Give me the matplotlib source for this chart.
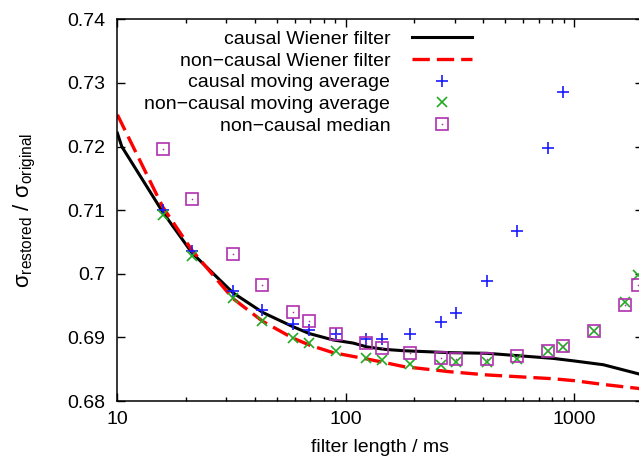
import matplotlib
matplotlib.use("Agg")
import matplotlib.pyplot as plt
from matplotlib.ticker import FixedLocator, LogLocator, NullFormatter, FormatStrFormatter

plt.rcParams["font.family"] = ["Liberation Sans", "DejaVu Sans"]
plt.rcParams["mathtext.fontset"] = "custom"
plt.rcParams["mathtext.rm"] = "Liberation Sans"
plt.rcParams["mathtext.it"] = "Liberation Sans:italic"

# Wiener filter curves (filter length in ms)
wiener_len = [10, 10.45, 15.8, 21.2, 32.1, 43.4, 58.6, 69.3, 88, 108, 124, 150, 180, 286, 415, 810, 1000, 1345, 2000]
causal_wiener = [0.7221, 0.7200, 0.7097, 0.7033, 0.6970, 0.6939, 0.6917, 0.6906, 0.6896, 0.6891,
                 0.6885, 0.6881, 0.6879, 0.6876, 0.6875, 0.6867, 0.6863, 0.6857, 0.6841]
noncausal_wiener = [0.7250, 0.7236, 0.7105, 0.7037, 0.6961, 0.6925, 0.6899, 0.6888, 0.6876, 0.6870,
                    0.6866, 0.6860, 0.6854, 0.6846, 0.6841, 0.6835, 0.6832, 0.6826, 0.6819]

# simple filters
filt_len = [15.8, 21.2, 32.1, 43, 58.6, 69.3, 91, 123, 144, 191, 262, 303, 416, 563, 769, 898, 1220, 1673, 1912]
causal_ma = [0.7101, 0.7036, 0.6973, 0.6943, 0.6921, 0.6911, 0.6906, 0.6897, 0.6898, 0.6906,
             0.6924, 0.6939, 0.6988, 0.7068, 0.7197, 0.7285]
noncausal_ma = [0.7092, 0.7028, 0.6962, 0.6926, 0.6899, 0.6891, 0.6879, 0.6868, 0.6864, 0.6858,
                0.6857, 0.6862, 0.6862, 0.6866, 0.6878, 0.6885, 0.6910, 0.6955, 0.6998]
noncausal_median = [0.7196, 0.7117, 0.7031, 0.6982, 0.6940, 0.6926, 0.6906, 0.6891, 0.6884, 0.6876,
                    0.6868, 0.6866, 0.6866, 0.6871, 0.6879, 0.6887, 0.6910, 0.6951, 0.6982]

W, H = 639, 467
fig = plt.figure(figsize=(W / 100, H / 100), dpi=100)
ax = fig.add_axes([117.4 / W, 66 / H, (642.7 - 117.4) / W, (401 - 19.3) / H])

l1, = ax.plot(wiener_len, causal_wiener, color="black", lw=2.2)
l2, = ax.plot(wiener_len, noncausal_wiener, color="#ff0000", lw=2.4, dashes=(5.2, 2.1))
l3, = ax.plot(filt_len[:len(causal_ma)], causal_ma, ls="none", marker="+", ms=9, mew=1.2,
              color="#1a1aff")
l4, = ax.plot(filt_len, noncausal_ma, ls="none", marker="x", ms=7.5, mew=1.2,
              color="#22aa22")
l5, = ax.plot(filt_len, noncausal_median, ls="none", marker="s", ms=9, mew=1.2,
              mfc="none", color="#b030b0")
l5d, = ax.plot(filt_len, noncausal_median, ls="none", marker="o", ms=1.2, mew=0,
               color="#b030b0")

ax.set_xscale("log")
ax.set_xlim(10, 2000)
ax.set_ylim(0.68, 0.74)
ax.xaxis.set_major_locator(FixedLocator([10, 100, 1000]))
ax.xaxis.set_major_formatter(FormatStrFormatter("%g"))
ax.xaxis.set_minor_locator(LogLocator(base=10, subs=range(2, 10)))
ax.xaxis.set_minor_formatter(NullFormatter())
ax.yaxis.set_major_locator(FixedLocator([0.68, 0.69, 0.70, 0.71, 0.72, 0.73, 0.74]))
ax.yaxis.set_major_formatter(FormatStrFormatter("%g"))

ax.tick_params(which="both", direction="in", top=True, right=True, width=1, labelsize=14)
ax.tick_params(which="major", length=5.5)
ax.tick_params(which="minor", length=3)
ax.tick_params(axis="x", pad=7)
ax.tick_params(axis="y", pad=9)
for s in ax.spines.values():
    s.set_linewidth(1.1)

ax.set_xlabel("filter length / ms", fontsize=14)
ax.set_ylabel(r"$\mathrm{\sigma}_{\mathrm{restored}}$ / $\mathrm{\sigma}_{\mathrm{original}}$", fontsize=16)
ax.xaxis.set_label_coords(0.5, -0.1)
ax.yaxis.set_label_coords(-0.152, 0.5)

leg = ax.legend([l1, l2, l3, l4, (l5, l5d)],
                ["causal Wiener filter", "non\u2212causal Wiener filter", "causal moving average",
                 "non\u2212causal moving average", "non\u2212causal median"],
                loc="upper right", bbox_to_anchor=(472 / W, 1 - 30 / H), bbox_transform=fig.transFigure,
                frameon=False, markerfirst=False, fontsize=14, numpoints=1,
                handlelength=3.1, handletextpad=1.1, labelspacing=0.22, borderpad=0, borderaxespad=0)

fig.savefig("out.png", dpi=100)
